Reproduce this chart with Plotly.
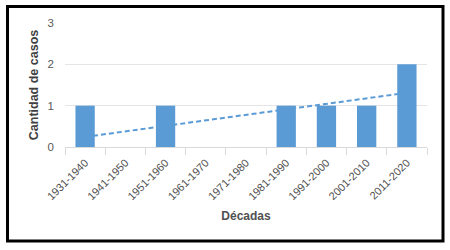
import numpy as np
import plotly.graph_objects as go

decadas = ["1931-1940", "1941-1950", "1951-1960", "1961-1970", "1971-1980",
           "1981-1990", "1991-2000", "2001-2010", "2011-2020"]
casos = [1, 0, 1, 0, 0, 1, 1, 1, 2]

# linear trendline (Excel-style) from the data
xi = np.arange(1, len(casos) + 1)
slope, intercept = np.polyfit(xi, casos, 1)
trend = slope * xi + intercept

W, H = 450, 250
ml, mr, mt, mb = 65, 23, 23, 103
pw, ph = W - ml - mr, H - mt - mb

fig = go.Figure()
fig.add_trace(go.Bar(
    x=decadas, y=casos,
    marker=dict(color="#5B9BD5", line=dict(width=0)),
    hoverinfo="skip",
))
fig.add_trace(go.Scatter(
    x=decadas, y=trend, mode="lines",
    line=dict(color="#5B9BD5", width=2, dash="5px,3px"),
    hoverinfo="skip",
))

def px2paper_x(px):
    return (px - ml) / pw

def px2paper_y(py):
    return (H - mb - py) / ph

fig.add_shape(type="rect", xref="paper", yref="paper",
              x0=px2paper_x(7.5), x1=px2paper_x(443),
              y0=px2paper_y(241), y1=px2paper_y(6.5),
              line=dict(color="#000000", width=3), fillcolor="rgba(0,0,0,0)",
              layer="above")

fig.update_layout(
    width=W, height=H,
    margin=dict(l=ml, r=mr, t=mt, b=mb, pad=0, autoexpand=False),
    paper_bgcolor="white", plot_bgcolor="white",
    showlegend=False,
    bargap=0.52,
    font=dict(family="Liberation Sans, Arial, sans-serif", color="#595959"),
    xaxis=dict(
        type="category",
        automargin=False,
        tickangle=-45,
        tickfont=dict(size=11, color="#505050"),
        showgrid=False,
        showline=True, linecolor="#D9D9D9", linewidth=1,
        ticks="outside", tickson="boundaries", ticklen=7, tickcolor="#D9D9D9",
        ticklabelstandoff=4,
        title=dict(text="<b>Décadas</b>", font=dict(size=12, color="#505050"), standoff=10),
        range=[-0.5, 8.5],
    ),
    yaxis=dict(
        automargin=False,
        range=[0, 3],
        tickvals=[0, 1, 2, 3],
        tickfont=dict(size=11.5, color="#595959"),
        showgrid=True, gridcolor="#E5E5E5", gridwidth=1,
        zeroline=False,
        ticklabelstandoff=10,
        title=dict(text="<b>Cantidad de casos</b>", font=dict(size=12.5, color="#404040"), standoff=6),
    ),
)

fig.write_html("out.html", config={"displayModeBar": False},
               post_script="document.body.style.margin='0px';")
